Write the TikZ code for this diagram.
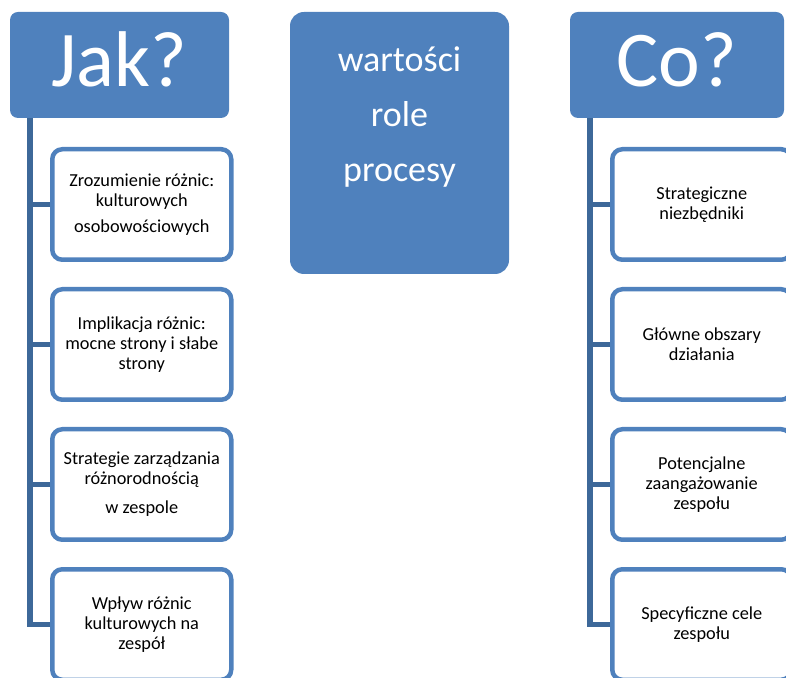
\documentclass[tikz,border=0pt]{standalone}
\usepackage{fontspec}
\setmainfont{Carlito}
\usetikzlibrary{positioning}

\definecolor{hdrblue}{HTML}{4F81BD}
\definecolor{linkblue}{HTML}{3D6899}

\begin{document}
\begin{tikzpicture}[
  x=1pt, y=1pt,
  head/.style={fill=hdrblue, rounded corners=8pt, minimum width=219pt,
               minimum height=106pt, inner sep=0pt, text=white,
               font=\fontsize{79}{90}\selectfont, text height=44pt, text depth=0pt},
  midbox/.style={fill=hdrblue, rounded corners=14pt, minimum width=219pt,
                 minimum height=262pt},
  midtxt/.style={inner sep=0pt, align=center, text=white,
                 font=\fontsize{36}{55}\selectfont},
  item/.style={draw=hdrblue, line width=4.5pt, fill=white, rounded corners=10pt,
               minimum width=179pt, minimum height=110.5pt, inner sep=0pt,
               align=center, font=\fontsize{18.3}{20}\selectfont},
  link/.style={draw=linkblue, line width=5.5pt}
]
  \useasboundingbox (0,0) rectangle (786,677);
  \clip (0,0) rectangle (786,677);

  \node[head] (jak) at (119.5,612) {Jak?};
  \node[head, minimum width=214pt] (co) at (677,612) {Co?};
  \node[midbox] (mid) at (399.5,534) {};
  \node[midtxt, below=35pt of mid.north] (midlbl) {wartości\\role\\procesy};

  \node[item] (j1) at (141.75,472.5) {Zrozumienie różnic:\\kulturowych\\[6pt]osobowościowych};
  \node[item] (j2) at (141.75,332.5) {Implikacja różnic:\\mocne strony i słabe\\strony};
  \node[item] (j3) at (141.75,192.5) {Strategie zarządzania\\różnorodnością\\[9pt]w zespole};
  \node[item] (j4) at (141.75,52.5)  {Wpływ różnic\\kulturowych na\\zespół};

  \node[item] (c1) at (701.75,472.5) {Strategiczne\\niezbędniki};
  \node[item] (c2) at (701.75,332.5) {Główne obszary\\działania};
  \node[item] (c3) at (701.75,192.5) {Potencjalne\\zaangażowanie\\zespołu};
  \node[item] (c4) at (701.75,52.5)  {Specyficzne cele\\zespołu};

  \foreach \n in {j1,j2,j3,j4}
    \draw[link] ([xshift=20pt]jak.south west) |- (\n.west);
  \foreach \n in {c1,c2,c3,c4}
    \draw[link] ([xshift=20pt]co.south west) |- (\n.west);
\end{tikzpicture}
\end{document}
